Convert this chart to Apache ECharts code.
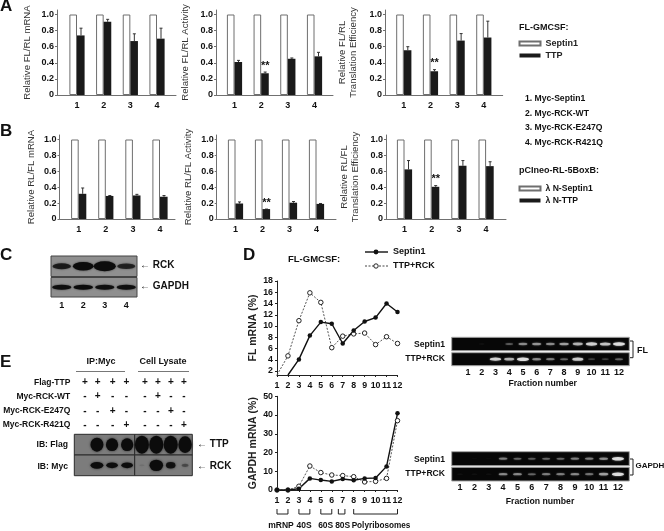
<!DOCTYPE html>
<html><head><meta charset="utf-8">
<style>html,body{margin:0;padding:0;background:#fff}#c{width:664px;height:531px;filter:blur(0.3px)}</style>
<script src="https://cdn.jsdelivr.net/npm/echarts@6/dist/echarts.min.js"></script>
</head><body><div id="c"></div>
<script>
// ---------- data ----------
const barLanes = [1, 2, 3, 4];
const yTicks = [0, 0.2, 0.4, 0.6, 0.8, 1];
const control = [1, 1, 1, 1];
const aMrna = [0.74, 0.91, 0.67, 0.70];
const aMrnaTop = [0.83, 0.94, 0.76, 0.83];
const aActivity = [0.41, 0.27, 0.45, 0.48];
const aActivityTop = [0.43, 0.285, 0.46, 0.53];
const aEfficiency = [0.556, 0.295, 0.676, 0.714];
const aEfficiencyTop = [0.60, 0.315, 0.763, 0.917];
const bMrna = [0.317, 0.29, 0.296, 0.28];
const bMrnaTop = [0.39, 0.295, 0.31, 0.295];
const bActivity = [0.195, 0.125, 0.205, 0.19];
const bActivityTop = [0.215, 0.125, 0.22, 0.195];
const bEfficiency = [0.624, 0.405, 0.67, 0.665];
const bEfficiencyTop = [0.735, 0.42, 0.735, 0.72];
const sigNone = ['', '', '', ''];
const sigLane2 = ['', '**', '', ''];

const fractions = [1, 2, 3, 4, 5, 6, 7, 8, 9, 10, 11, 12];
const flSeptin = [null, 1.3, 4.07, 8.3, 10.7, 10.4, 6.9, 9.2, 10.8, 11.5, 14.0, 12.5];
const flTtpRck = [1.3, 4.7, 10.95, 15.9, 14.2, 6.15, 8.2, 8.6, 8.75, 6.7, 8.1, 6.9];
const flTicks = [2, 4, 6, 8, 10, 12, 14, 16, 18];
const gapdhSeptin = [0, 0, 0.7, 6.2, 5.3, 4.6, 5.9, 5.2, 6.2, 6.4, 12.6, 40.9];
const gapdhTtpRck = [0, 0, 2, 12.8, 9.3, 8, 7.7, 7.1, 4.3, 4.6, 6.2, 37];
const gapdhTicks = [0, 10, 20, 30, 40, 50];
const gradientSpans = [[1, 2], [3, 4], [5, 6], [6.6, 7.2], [8, 12]];
const gradientLabels = ['mRNP', '40S', '60S', '80S', 'Polyribosomes'];

const cRck = [0.5, 0.8, 1, 0.45];
const cGapdh = [0.6, 0.65, 0.6, 0.6];
const eFlagIp = [0, 0.85, 0.75, 0.75];
const eFlagLysate = [1, 1, 1, 0.9];
const eMycIp = [0, 0.8, 0.6, 0.6];
const eMycLysate = [0.05, 0.95, 0.5, 0.2];
const flGelSeptin = [0, 0.05, 0, 0.3, 0.5, 0.55, 0.5, 0.6, 0.7, 0.9, 0.8, 1];
const flGelTtp = [0, 0, 0.9, 0.7, 1, 0.5, 0.45, 0.35, 0.85, 0.2, 0.2, 0.35];
const gapdhGelSeptin = [0, 0.03, 0.03, 0.45, 0.35, 0.3, 0.35, 0.35, 0.45, 0.45, 0.5, 1];
const gapdhGelTtp = [0.05, 0.05, 0.05, 0.5, 0.5, 0.35, 0.45, 0.45, 0.5, 0.4, 0.6, 1];

const eRows = ['Flag-TTP', 'Myc-RCK-WT', 'Myc-RCK-E247Q', 'Myc-RCK-R421Q'];
const eSigns = ['++++', '-+--', '--+-', '---+'];
const constructList = ['1. Myc-Septin1', '2. Myc-RCK-WT', '3. Myc-RCK-E247Q', '4. Myc-RCK-R421Q'];

// ---------- builders ----------
const FF = '"Liberation Sans", Arial, sans-serif';
const grids = [], xAxes = [], yAxes = [], series = [], graphics = [];
const BOLD = { fontFamily: FF, fontWeight: 'bold', color: '#111' };

function t(x, y, text, size, align, weight) {
  graphics.push({ type: 'text', x, y, silent: true, style: {
    text, fill: '#111', font: (weight || 'bold') + ' ' + size + 'px ' + FF,
    textAlign: align || 'left', textVerticalAlign: 'middle' } });
}

function barPanel(p) {
  const g = grids.length, s = p.step;
  const xMin = 1 - (p.c1 - p.left) / s, xMax = 4 + (p.right - p.c1 - 3 * s) / s;
  grids.push({ left: p.left, top: p.top, width: p.right - p.left, height: p.bottom - p.top });
  xAxes.push({ gridIndex: g, type: 'value', min: xMin, max: xMax, splitLine: { show: false },
    axisLine: { lineStyle: { color: '#707070', width: 1 } }, axisTick: { show: false },
    axisLabel: { customValues: barLanes, margin: 6, fontSize: 9, ...BOLD, formatter: v => String(v) } });
  const unit = p.bottom - p.y1;
  yAxes.push({ gridIndex: g, type: 'value', min: 0, max: (p.bottom - p.top) / unit, splitLine: { show: false },
    name: p.name, nameLocation: 'middle', nameRotate: 90, nameGap: p.gap,
    nameTextStyle: { fontFamily: FF, fontSize: 9.6, color: '#333', lineHeight: 11 },
    axisLine: { show: true, lineStyle: { color: '#707070', width: 1 } },
    axisTick: { show: true, length: 2, customValues: yTicks, lineStyle: { color: '#707070' } },
    axisLabel: { customValues: yTicks, margin: 3, fontSize: 9, ...BOLD, formatter: v => v === 0 ? '0' : v.toFixed(1) } });
  const pair = arr => barLanes.map((x, i) => [x, arr[i]]);
  const base = { type: 'bar', xAxisIndex: g, yAxisIndex: g, barWidth: 7.6, barGap: 0, animation: false };
  series.push({ ...base, name: p.names[0], data: pair(control),
    itemStyle: { color: '#fff', borderColor: '#6e6e6e', borderWidth: 1 } });
  series.push({ ...base, name: p.names[1], data: pair(p.vals), itemStyle: { color: '#1a1a1a' } });
  series.push({ type: 'custom', xAxisIndex: g, yAxisIndex: g, animation: false, silent: true,
    encode: { x: 0, y: 1 },
    data: barLanes.map((x, i) => [x, p.tops[i], p.vals[i], i]),
    renderItem(params, api) {
      const top = api.coord([api.value(0), api.value(1)]);
      const bar = api.coord([api.value(0), api.value(2)]);
      const x = top[0] + 4;
      const kids = [
        { type: 'line', shape: { x1: x, y1: top[1], x2: x, y2: bar[1] }, style: { stroke: '#333', lineWidth: 1 } },
        { type: 'line', shape: { x1: x - 1.5, y1: top[1], x2: x + 1.5, y2: top[1] }, style: { stroke: '#333', lineWidth: 1 } }
      ];
      const star = p.sig[api.value(3)];
      if (star) kids.push({ type: 'text', x: x, y: top[1] - 1, style: {
        text: star, font: 'bold 11px ' + FF, fill: '#111', textAlign: 'center', textVerticalAlign: 'bottom' } });
      return { type: 'group', children: kids };
    } });
}

function bandPanel(b) {
  const g = grids.length;
  grids.push({ left: b.left, top: b.top, width: b.right - b.left, height: b.bottom - b.top, show: true,
    backgroundColor: b.bg, borderColor: b.border, borderWidth: 1 });
  xAxes.push({ gridIndex: g, type: 'value', min: b.xMin, max: b.xMax, splitLine: { show: false },
    axisLine: { show: false }, axisTick: { show: false },
    axisLabel: b.labels ? { customValues: b.lanes, margin: b.margin, fontSize: 9, ...BOLD, formatter: v => String(v) } : { show: false } });
  yAxes.push({ gridIndex: g, type: 'value', min: 0, max: 1, show: false });
  series.push({ type: 'scatter', xAxisIndex: g, yAxisIndex: g, animation: false, silent: true, clip: true,
    data: b.lanes.map((l, i) => [l, 0.5, b.vals[i]]).filter(d => d[2] > 0),
    symbol: 'circle',
    symbolSize: d => [b.w0 + b.w1 * d[2], b.h0 + b.h1 * d[2]],
    itemStyle: { color: p => `rgba(${b.ink},${Math.min(1, p.data[2] * b.gain)})`, shadowBlur: b.blur, shadowColor: `rgba(${b.ink},0.7)`, opacity: 1 } });
}

// ---------- bar panels ----------
const sN = ['Septin1', 'TTP'], lN = ['\u03bb N-Septin1', '\u03bb N-TTP'];
barPanel({ left: 57, right: 176, top: 10, bottom: 95, y1: 14.5, c1: 77, step: 26.67, vals: aMrna, tops: aMrnaTop, sig: sigNone, names: sN, name: 'Relative FL/RL mRNA', gap: 24 });
barPanel({ left: 216, right: 333, top: 10, bottom: 95, y1: 14.5, c1: 234.5, step: 26.67, vals: aActivity, tops: aActivityTop, sig: sigLane2, names: sN, name: 'Relative FL/RL Activity', gap: 25 });
barPanel({ left: 385, right: 502.7, top: 10, bottom: 95, y1: 14.5, c1: 403.8, step: 26.67, vals: aEfficiency, tops: aEfficiencyTop, sig: sigLane2, names: sN, name: 'Relative FL/RL\nTranslation Efficiency', gap: 26 });
barPanel({ left: 59.5, right: 175, top: 135, bottom: 219, y1: 139.5, c1: 78.7, step: 27.1, vals: bMrna, tops: bMrnaTop, sig: sigNone, names: lN, name: 'Relative RL/FL mRNA', gap: 23 });
barPanel({ left: 216.7, right: 336, top: 135, bottom: 219, y1: 139.5, c1: 235.5, step: 27, vals: bActivity, tops: bActivityTop, sig: sigLane2, names: lN, name: 'Relative RL/FL Activity', gap: 23 });
barPanel({ left: 386, right: 506, top: 135, bottom: 219, y1: 139.5, c1: 404.5, step: 27.2, vals: bEfficiency, tops: bEfficiencyTop, sig: sigLane2, names: lN, name: 'Relative RL/FL\nTranslation Efficiency', gap: 25 });

// ---------- line panels ----------
function linePanel(p) {
  const g = grids.length;
  grids.push({ left: 277, top: p.top, width: 120.5, height: p.bottom - p.top });
  xAxes.push({ gridIndex: g, type: 'value', min: 1, max: 12, splitLine: { show: false },
    axisLine: { lineStyle: { color: '#222' } }, axisTick: { show: true, length: 2, customValues: fractions, lineStyle: { color: '#222' }, inside: false },
    axisLabel: { customValues: fractions, margin: 6, fontSize: 8.8, ...BOLD, formatter: v => String(v) } });
  yAxes.push({ gridIndex: g, type: 'value', min: p.min, max: p.max, splitLine: { show: false },
    name: p.name, nameLocation: 'middle', nameRotate: 90, nameGap: 18,
    nameTextStyle: { fontFamily: FF, fontWeight: 'bold', fontSize: 10.5, color: '#222' },
    axisLine: { show: true, lineStyle: { color: '#222' } },
    axisTick: { show: true, length: 2, customValues: p.ticks, lineStyle: { color: '#222' } },
    axisLabel: { customValues: p.ticks, margin: 4, fontSize: 8.8, ...BOLD, formatter: v => String(v) } });
  const pts = arr => fractions.map((f, i) => arr[i] === null ? { value: [f, null] }
    : (arr[i] <= p.min && p.min > 0 ? { value: [f, arr[i]], symbol: 'none' } : { value: [f, arr[i]] }));
  series.push({ name: 'TTP+RCK', type: 'line', xAxisIndex: g, yAxisIndex: g, animation: false, clip: false, data: pts(p.ttp),
    symbol: 'circle', symbolSize: p.sym, lineStyle: { color: '#555', width: 1, type: [2, 1.5] },
    itemStyle: { color: '#fff', borderColor: '#222', borderWidth: 1 } });
  series.push({ name: 'Septin1', type: 'line', xAxisIndex: g, yAxisIndex: g, animation: false, clip: false, data: pts(p.sep),
    symbol: 'circle', symbolSize: p.sym, lineStyle: { color: '#111', width: 1.4 },
    itemStyle: { color: '#111', borderColor: '#111', borderWidth: 0 } });
  return g;
}
linePanel({ top: 281, bottom: 375, min: 1.3, max: 18, ticks: flTicks, sep: flSeptin, ttp: flTtpRck, sym: 4.5, name: 'FL mRNA (%)' });
const gG = linePanel({ top: 396.3, bottom: 490, min: 0, max: 50, ticks: gapdhTicks, sep: gapdhSeptin, ttp: gapdhTtpRck, sym: 4.5, name: 'GAPDH mRNA (%)' });
series.push({ type: 'custom', xAxisIndex: gG, yAxisIndex: gG, animation: false, silent: true,
  data: gradientSpans.map(s => [s[0], s[1]]), encode: { x: [0, 1] },
  renderItem(params, api) {
    const a = api.coord([api.value(0), 0]), b = api.coord([api.value(1), 0]), y = a[1] + 24;
    return { type: 'polyline', shape: { points: [[a[0], y - 5], [a[0], y], [b[0], y], [b[0], y - 5]] },
      style: { stroke: '#222', fill: null, lineWidth: 1 } };
  } });

// ---------- blots ----------
const gray = { bg: '#8f8f8f', border: '#444', ink: '12,12,12', gain: 1.6, blur: 2, xMin: 0.5, xMax: 4.5, lanes: barLanes };
bandPanel({ ...gray, left: 51, right: 137, top: 256, bottom: 276.5, vals: cRck, w0: 15, w1: 7, h0: 2, h1: 8 });
bandPanel({ ...gray, left: 51, right: 137, top: 277.5, bottom: 297, vals: cGapdh, w0: 15, w1: 7, h0: 2.5, h1: 4, labels: true, margin: 4 });
const eb = { ...gray, bg: '#7c7c7c', border: '#2a2a2a', blur: 2.5, gain: 1.8 };
bandPanel({ ...eb, left: 74.3, right: 134.7, top: 434.3, bottom: 455, vals: eFlagIp, w0: 7, w1: 7, h0: 3, h1: 13 });
bandPanel({ ...eb, left: 134.7, right: 192.3, top: 434.3, bottom: 455, vals: eFlagLysate, w0: 7, w1: 7, h0: 4, h1: 14 });
bandPanel({ ...eb, left: 74.3, right: 134.7, top: 455, bottom: 475.7, vals: eMycIp, w0: 8, w1: 6, h0: 2, h1: 6 });
bandPanel({ ...eb, left: 134.7, right: 192.3, top: 455, bottom: 475.7, vals: eMycLysate, w0: 5, w1: 9, h0: 1, h1: 11 });
const gel = { bg: '#070707', border: '#a5a5a5', ink: '225,225,225', gain: 0.95, blur: 2, lanes: fractions, w0: 6, w1: 6, h0: 1.2, h1: 2.3 };
const flX = { xMin: 1 - 16.3 / 13.7, xMax: 12 + 10.3 / 13.7 };
const gX = { xMin: 1 - 8.3 / 14.3, xMax: 12 + 11.3 / 14.3 };
bandPanel({ ...gel, ...flX, left: 451.7, right: 629.3, top: 337.3, bottom: 350.7, vals: flGelSeptin });
bandPanel({ ...gel, ...flX, left: 451.7, right: 629.3, top: 352.7, bottom: 365.7, vals: flGelTtp, labels: true, margin: 2 });
bandPanel({ ...gel, ...gX, left: 451.7, right: 629.3, top: 451.7, bottom: 465.7, vals: gapdhGelSeptin });
bandPanel({ ...gel, ...gX, left: 451.7, right: 629.3, top: 467.3, bottom: 481, vals: gapdhGelTtp, labels: true, margin: 2 });

// ---------- text ----------
t(0, 6, 'A', 17); t(0, 131, 'B', 17); t(0, 255, 'C', 17); t(243, 255, 'D', 17); t(0, 362, 'E', 17);
t(519, 28, 'FL-GMCSF:', 9); t(519, 171, 'pCIneo-RL-5BoxB:', 9);
constructList.forEach((s, i) => t(525, [99, 113.5, 128, 143][i], s, 8.6));
t(140, 265.7, '\u2190 RCK', 10); t(140, 286.7, '\u2190 GAPDH', 10);
t(288, 259, 'FL-GMCSF:', 9.5);
t(393, 252, 'Septin1', 9); t(393, 266, 'TTP+RCK', 9);
graphics.push({ type: 'line', shape: { x1: 365, y1: 252, x2: 388, y2: 252 }, style: { stroke: '#111', lineWidth: 1.4 } });
graphics.push({ type: 'circle', shape: { cx: 376, cy: 252, r: 2.4 }, style: { fill: '#111' } });
graphics.push({ type: 'line', shape: { x1: 365, y1: 266, x2: 388, y2: 266 }, style: { stroke: '#444', lineWidth: 1, lineDash: [2, 1.5] } });
graphics.push({ type: 'circle', z: 5, shape: { cx: 376, cy: 266, r: 2.2 }, style: { fill: '#fff', stroke: '#222', lineWidth: 1 } });
[281, 304, 325.7, 342.7, 381].forEach((x, i) => t(x, 526, gradientLabels[i], i === 4 ? 8.2 : 8.5, 'center'));

t(445, 345, 'Septin1', 8.6, 'right'); t(445, 359, 'TTP+RCK', 8.6, 'right');
t(445, 459.3, 'Septin1', 8.6, 'right'); t(445, 473.3, 'TTP+RCK', 8.6, 'right');
t(637, 351, 'FL', 9); t(635.5, 466, 'GAPDH', 8);
t(542.7, 384, 'Fraction number', 8.7, 'center'); t(540, 501.3, 'Fraction number', 8.7, 'center');
[[341, 357.7], [459, 475]].forEach(r => graphics.push({ type: 'polyline',
  shape: { points: [[630, r[0]], [633, r[0]], [633, r[1]], [630, r[1]]] }, style: { stroke: '#222', fill: null, lineWidth: 1 } }));

t(101, 362, 'IP:Myc', 9, 'center'); t(163, 362, 'Cell Lysate', 9, 'center');
graphics.push({ type: 'line', shape: { x1: 76, y1: 371.5, x2: 125, y2: 371.5 }, style: { stroke: '#777', lineWidth: 1 } });
graphics.push({ type: 'line', shape: { x1: 138, y1: 371.5, x2: 189, y2: 371.5 }, style: { stroke: '#777', lineWidth: 1 } });
const signX = [85, 97.7, 112.7, 126.3, 145, 158, 171, 184];
eRows.forEach((r, i) => {
  const y = [382.7, 396.7, 411, 425][i];
  t(70.3, y, r, 8.5, 'right');
  signX.forEach((x, j) => t(x, y, eSigns[i][j % 4], 10, 'center'));
});
t(68, 445, 'IB: Flag', 8.6, 'right'); t(68, 467, 'IB: Myc', 8.6, 'right');
t(197, 444, '\u2190 TTP', 10); t(197, 466.7, '\u2190 RCK', 10);

// ---------- chart ----------
const legendBase = { orient: 'vertical', left: 518.5, padding: 0, itemWidth: 21, itemHeight: 4, itemGap: 3, selectedMode: false, icon: 'rect' };
const chart = echarts.init(document.getElementById('c'), null, { renderer: 'canvas' });
chart.setOption({
  animation: false, backgroundColor: '#fff', textStyle: { fontFamily: FF },
  grid: grids, xAxis: xAxes, yAxis: yAxes, series, graphic: graphics,
  legend: [
    { ...legendBase, top: 39, data: sN, textStyle: { fontFamily: FF, fontSize: 9, color: '#222', fontWeight: 'bold' } },
    { ...legendBase, top: 184, data: lN, textStyle: { fontFamily: FF, fontSize: 8.6, color: '#111', fontWeight: 'bold' } }
  ]
});
</script></body></html>
